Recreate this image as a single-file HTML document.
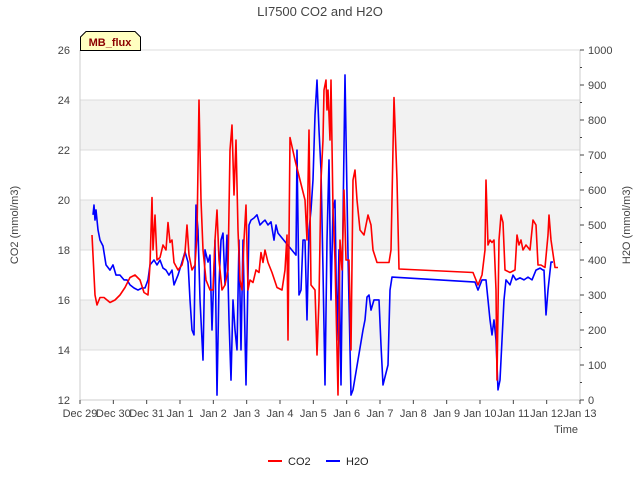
<!DOCTYPE html>
<html><head><meta charset="utf-8"><style>
body{margin:0;background:#fff;font-family:"Liberation Sans",sans-serif}
svg text{font-family:"Liberation Sans",sans-serif}
</style></head><body>
<svg id="c" width="640" height="480" xmlns="http://www.w3.org/2000/svg"></svg>
<script>
const xTickLabels=["Dec 29","Dec 30","Dec 31","Jan 1","Jan 2","Jan 3","Jan 4","Jan 5","Jan 6","Jan 7","Jan 8","Jan 9","Jan 10","Jan 11","Jan 12","Jan 13"];
const yLeftTicks=[12,14,16,18,20,22,24,26];
const yRightTicks=[0,100,200,300,400,500,600,700,800,900,1000];
const co2Days=[0.36,.45,.51,.6,.72,.9,1.05,1.2,1.35,1.5,1.65,1.8,1.92,2.04,2.1,2.16,2.19,2.25,2.31,2.4,2.49,2.58,2.64,2.7,2.76,2.82,2.94,3.06,3.15,3.21,3.27,3.36,3.45,3.51,3.57,3.63,3.69,3.78,3.9,3.99,4.05,4.11,4.17,4.26,4.35,4.44,4.5,4.56,4.62,4.68,4.74,4.8,4.86,4.92,4.98,5.04,5.1,5.19,5.28,5.37,5.43,5.49,5.55,5.64,5.76,5.91,6.06,6.15,6.21,6.24,6.3,6.45,6.75,6.81,6.87,6.93,7.05,7.11,7.17,7.23,7.29,7.32,7.38,7.41,7.44,7.5,7.53,7.59,7.65,7.74,7.8,7.86,7.92,7.98,8.07,8.13,8.19,8.25,8.31,8.4,8.52,8.64,8.73,8.79,8.91,9.0,9.15,9.27,9.33,9.42,9.51,9.57,11.79,11.94,12.06,12.15,12.18,12.24,12.3,12.36,12.42,12.48,12.51,12.57,12.63,12.69,12.75,12.9,13.05,13.11,13.17,13.23,13.29,13.38,13.5,13.59,13.68,13.74,13.83,13.95,14.04,14.07,14.13,14.25,14.34];
const co2Values=[18.6,16.2,15.8,16.1,16.1,15.9,16.0,16.2,16.5,16.9,17.0,16.8,16.3,16.2,17.4,20.1,18.0,19.4,17.6,17.7,18.2,18.0,19.1,18.3,18.4,17.5,17.2,17.4,17.9,19.0,17.8,17.2,17.4,18.6,24.0,20.0,18.0,16.8,16.4,16.4,18.4,19.6,17.6,16.4,16.6,17.2,22.0,23.0,20.2,22.4,18.8,16.8,16.4,18.4,19.8,16.4,16.8,16.7,17.2,17.1,17.9,17.5,18.0,17.5,17.1,16.5,16.4,17.2,18.6,14.4,22.5,21.6,20.0,18.4,22.8,16.6,16.4,13.8,16.0,20.8,22.4,24.4,24.8,23.6,24.4,22.4,24.8,19.6,17.6,12.2,18.4,17.2,20.4,17.6,17.6,14.0,20.8,21.2,20.0,18.8,18.6,19.4,19.0,18.0,17.5,17.5,17.5,17.5,18.0,24.1,20.8,17.24,17.1,16.6,17.0,18.0,20.8,18.2,18.4,18.3,18.4,16.4,12.8,18.4,19.4,19.1,17.2,17.1,17.2,18.6,18.2,18.4,18.0,18.2,18.0,19.2,19.0,17.4,17.4,17.3,18.6,19.4,18.4,17.3,17.3];
const h2oDays=[0.39,.42,.45,.48,.54,.6,.69,.78,.9,.99,1.08,1.2,1.32,1.41,1.5,1.62,1.74,1.86,1.95,2.04,2.1,2.22,2.31,2.4,2.49,2.58,2.67,2.76,2.82,2.94,3.06,3.15,3.24,3.3,3.36,3.42,3.48,3.54,3.6,3.69,3.75,3.84,3.9,3.96,4.05,4.11,4.17,4.23,4.29,4.35,4.41,4.47,4.53,4.59,4.65,4.71,4.77,4.83,4.89,4.98,5.07,5.13,5.22,5.31,5.4,5.49,5.55,5.64,5.73,5.82,5.88,5.94,6.48,6.51,6.57,6.63,6.69,6.75,6.81,6.87,6.93,6.99,7.05,7.11,7.17,7.23,7.29,7.35,7.41,7.47,7.53,7.59,7.65,7.71,7.77,7.83,7.89,7.95,8.04,8.13,8.19,8.49,8.55,8.61,8.67,8.73,8.82,8.91,8.97,9.03,9.09,9.24,9.3,9.36,11.85,11.94,12.06,12.18,12.24,12.3,12.36,12.42,12.48,12.54,12.6,12.66,12.72,12.78,12.9,12.99,13.08,13.2,13.32,13.44,13.56,13.68,13.8,13.89,13.92,13.98,14.04,14.13,14.19];
const h2oValues=[529,557,514,543,486,457,440,386,371,386,357,357,343,343,329,320,314,320,320,343,386,400,386,400,377,371,357,371,329,357,394,423,394,286,200,186,557,486,286,114,429,394,414,200,457,14,329,457,477,329,471,229,57,286,200,143,457,143,457,43,500,514,520,529,500,509,514,500,509,457,500,477,414,714,300,314,457,457,229,486,543,629,814,914,771,657,371,43,457,686,286,543,571,171,429,43,514,929,414,14,29,200,229,294,300,257,286,286,286,157,43,100,314,351,337,314,343,343,286,229,186,229,171,29,57,171,286,343,329,357,343,349,343,351,343,371,377,371,371,243,314,394,394,406];

const L=80,R=580,T=50,B=400;
const xs=d=>L+d*(R-L)/15;
const yl=v=>B-(v-12)*(B-T)/14;
const yr=v=>B-v*(B-T)/1000;
const svg=document.getElementById('c');
const NS="http://www.w3.org/2000/svg";
function mk(tag,attrs,parent){const e=document.createElementNS(NS,tag);for(const k in attrs)e.setAttribute(k,attrs[k]);(parent||svg).appendChild(e);return e;}
function txt(s,attrs){const e=mk('text',attrs);e.textContent=s;return e;}

// bands
for(let i=0;i<7;i++){if(i%2===1){const r=mk('rect',{x:L,y:yl(12+2*(i+1)),width:R-L,height:yl(12)-yl(14),fill:'#f2f2f2'});}}
yLeftTicks.forEach(v=>{const l=mk('line',{x1:L,x2:R,y1:yl(v),y2:yl(v),stroke:'#dcdcdc'});
 const t=txt(v,{x:L-10,y:yl(v)+4,'text-anchor':'end','font-size':11,fill:'#444'});});
mk('line',{x1:L,x2:L,y1:T,y2:B,stroke:'#ccc'});
mk('line',{x1:R,x2:R,y1:T,y2:B,stroke:'#ccc'});
mk('line',{x1:L,x2:R,y1:B,y2:B,stroke:'#ccc'});
yRightTicks.forEach(v=>{mk('line',{x1:R,x2:R+4,y1:yr(v),y2:yr(v),stroke:'#444'});
 const t=txt(v,{x:R+8,y:yr(v)+4,'font-size':11,fill:'#444'});});
for(let v=50;v<1000;v+=100)mk('line',{x1:R,x2:R+2,y1:yr(v),y2:yr(v),stroke:'#444'});
xTickLabels.forEach((s,i)=>{mk('line',{x1:xs(i),x2:xs(i),y1:B,y2:B+4,stroke:'#444'});
 const t=txt(s,{x:xs(i),y:B+17,'text-anchor':'middle','font-size':11,fill:'#444'});});

function path(days,vals,sc,col,name){let d='';days.forEach((x,i)=>{d+=(i?'L':'M')+xs(x).toFixed(1)+','+sc(vals[i]).toFixed(1);});
 const p=mk('path',{d:d,fill:'none',stroke:col,'stroke-width':1.6,'stroke-linejoin':'round'});}
path(h2oDays,h2oValues,yr,'#0000ff','h2o-line');
path(co2Days,co2Values,yl,'#ff0000','co2-line');

let t;
t=txt('LI7500 CO2 and H2O',{x:320,y:16,'text-anchor':'middle','font-size':13,fill:'#444'});
t=txt('Time',{x:578,y:433,'text-anchor':'end','font-size':11,fill:'#444'});
t=txt('CO2 (mmol/m3)',{x:18,y:225,'text-anchor':'middle','font-size':11,fill:'#444',transform:'rotate(-90 18 225)'});
t=txt('H2O (mmol/m3)',{x:630,y:225,'text-anchor':'middle','font-size':11,fill:'#444',transform:'rotate(-90 630 225)'});
let g=mk('g',{});
mk('path',{d:'M80.5,50.5 L80.5,37 L86,31.5 L135,31.5 L140.5,37 L140.5,50.5 Z',fill:'#ffffc0',stroke:'#000'},g);
t=txt('MB_flux',{x:110,y:46,'text-anchor':'middle','font-size':11,'font-weight':'bold',fill:'#8b0000'});g.appendChild(t);
g=mk('g',{});
mk('line',{x1:268,x2:282,y1:461,y2:461,stroke:'#ff0000','stroke-width':2},g);
t=txt('CO2',{x:288,y:465,'font-size':11,fill:'#222'});g.appendChild(t);
g=mk('g',{});
mk('line',{x1:326,x2:340,y1:461,y2:461,stroke:'#0000ff','stroke-width':2},g);
t=txt('H2O',{x:346,y:465,'font-size':11,fill:'#222'});g.appendChild(t);
</script>
</body></html>
